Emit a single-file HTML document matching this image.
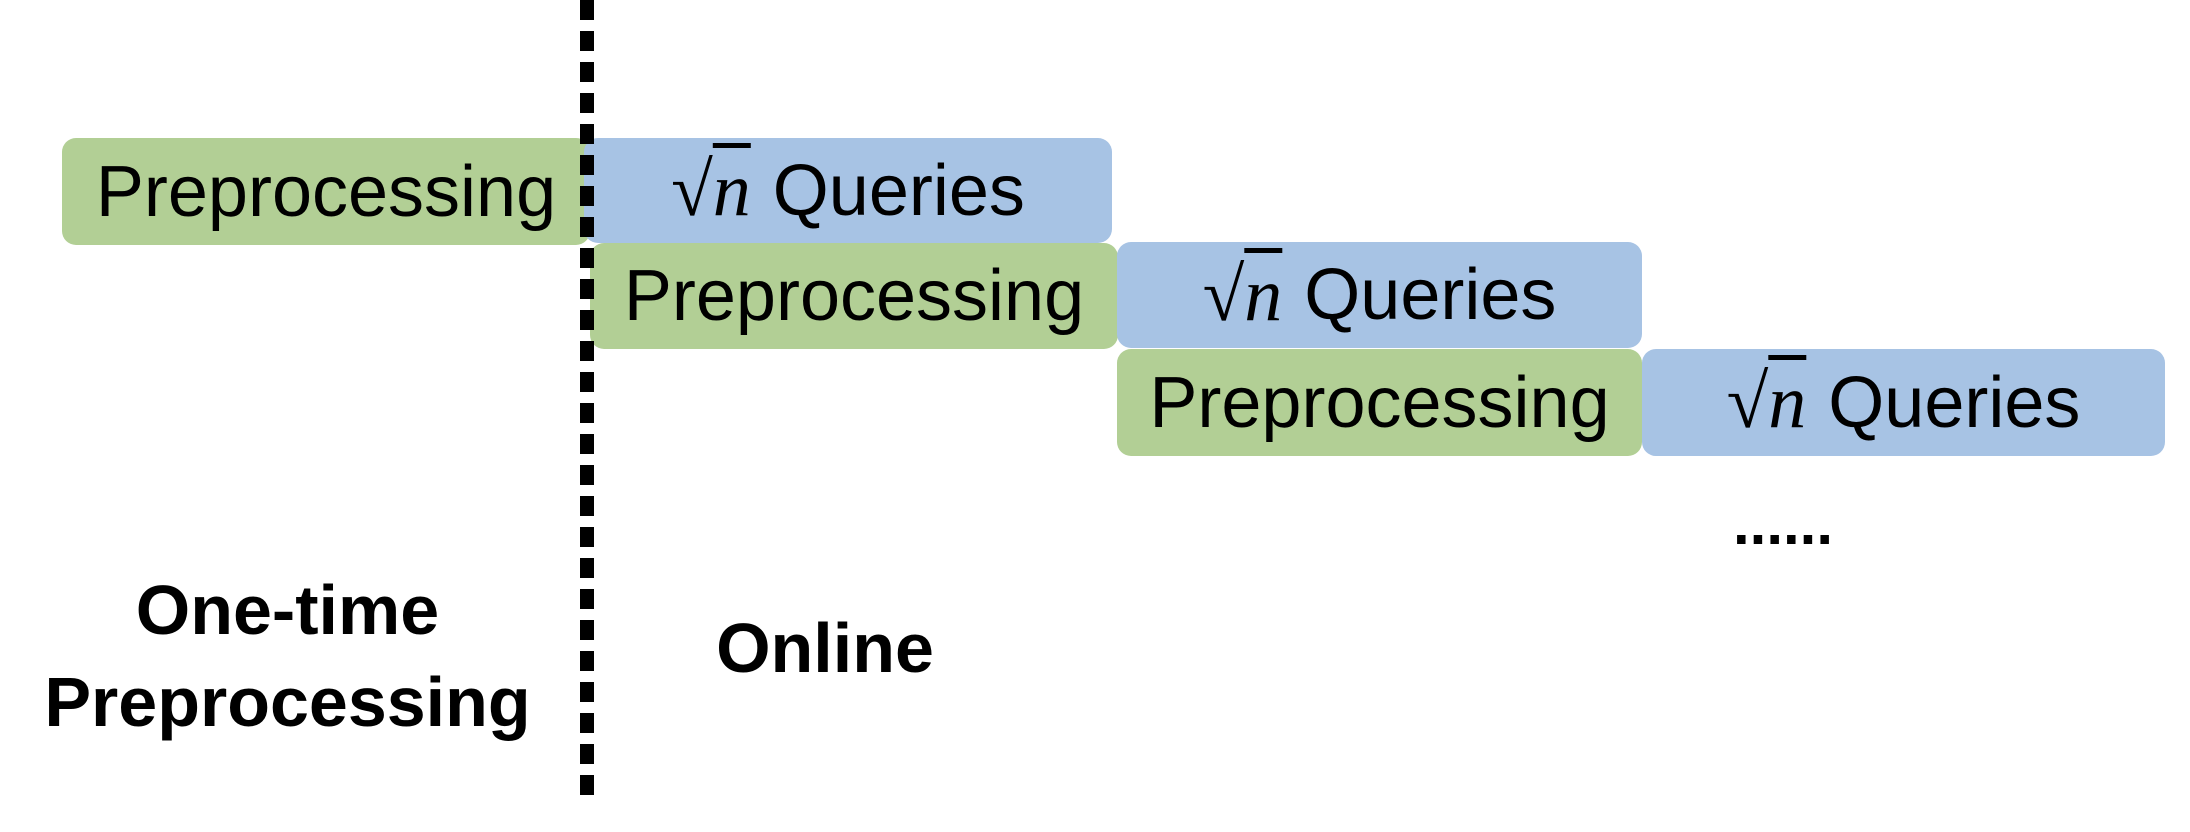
<!DOCTYPE html>
<html><head><style>
body{margin:0;width:2190px;height:832px;background:#fff;position:relative;overflow:hidden;font-family:"Liberation Sans",sans-serif;}
.b{position:absolute;border-radius:14px;display:flex;align-items:center;justify-content:center;font-size:72px;color:#000;}
.g{background:#b2cf95;}
.q{background:#a7c3e4;}
.sq{font-family:"Liberation Serif",serif;font-style:italic;font-size:76px;margin-right:22px;}
.sq span{text-decoration:overline;text-decoration-thickness:5px;}
.t{position:absolute;font-weight:bold;font-size:70px;text-align:center;line-height:92px;}
</style></head><body>
<div class="b g" style="left:62px;top:138px;width:528px;height:107px;">Preprocessing</div>
<div class="b q" style="left:584px;top:138px;width:528px;height:105px;"><span class="sq">√<span>n</span></span>Queries</div>
<div class="b g" style="left:590px;top:243px;width:528px;height:106px;">Preprocessing</div>
<div class="b q" style="left:1117px;top:242px;width:525px;height:106px;"><span class="sq">√<span>n</span></span>Queries</div>
<div class="b g" style="left:1117px;top:349px;width:525px;height:107px;">Preprocessing</div>
<div class="b q" style="left:1642px;top:349px;width:523px;height:107px;"><span class="sq">√<span>n</span></span>Queries</div>
<div style="position:absolute;left:580px;top:0;width:14px;height:804px;background:repeating-linear-gradient(to bottom,#000 0 20px,transparent 20px 31px);"></div>
<div class="t" style="left:0;top:564px;width:575px;">One-time<br>Preprocessing</div>
<div class="t" style="left:680px;top:602px;width:290px;">Online</div>
<div class="t" style="left:1688px;top:478px;width:190px;font-size:60px;">......</div>
</body></html>
